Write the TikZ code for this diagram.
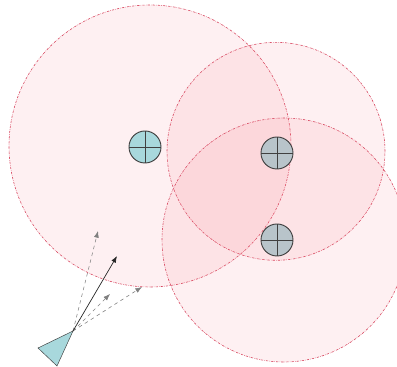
\documentclass[tikz,border=0pt]{standalone}
\usepackage{tikz}
\usetikzlibrary{arrows.meta}

\definecolor{rangered}{RGB}{215,70,95}
\definecolor{rangefill}{RGB}{245,110,125}
\definecolor{beaconcyan}{RGB}{168,216,220}
\definecolor{beacongrey}{RGB}{184,196,202}

\begin{document}
\begin{tikzpicture}[>={Latex[length=2mm]},
	rangecircle/.style={draw=rangered, dash pattern=on 2pt off 1pt on 0.4pt off 1pt, line width=0.5pt, fill=rangefill, fill opacity=0.1},
	beacon/.style={circle, draw=black!75, thick, minimum size=0.96cm, inner sep=0pt,
		path picture={\draw[black!75, thick] (path picture bounding box.north) -- (path picture bounding box.south)
			(path picture bounding box.west) -- (path picture bounding box.east);}},
	ray/.style={->, gray, dashed, line width=0.5pt}]
	\useasboundingbox (0,0) rectangle (11.91,11.01);
	\clip (0,0) rectangle (11.91,11.01);
	% range circles
	\draw[rangecircle] (4.5,6.63) circle (4.23);
	\draw[rangecircle] (8.28,6.47) circle (3.27);
	\draw[rangecircle] (8.52,3.81) circle (3.66);
	% beacons
	\node[beacon, fill=beaconcyan] (b1) at (4.35,6.6) {};
	\node[beacon, fill=beacongrey] (b2) at (8.31,6.42) {};
	\node[beacon, fill=beacongrey] (b3) at (8.31,3.81) {};
	% sensor
	\coordinate (apex) at (2.19,1.08);
	\draw[black!75, fill=beaconcyan] (apex) -- (1.14,0.57) -- (1.71,0.03) -- cycle;
	\coordinate (r1) at (2.94,4.08);
	\coordinate (r2) at (3.3,2.19);
	\coordinate (r3) at (4.26,2.4);
	\coordinate (dir) at (3.51,3.33);
	\draw[ray] (apex) -- (r1);
	\draw[ray] (apex) -- (r2);
	\draw[ray] (apex) -- (r3);
	\draw[->, black!85, line width=0.6pt] (apex) -- (dir);
\end{tikzpicture}
\end{document}
